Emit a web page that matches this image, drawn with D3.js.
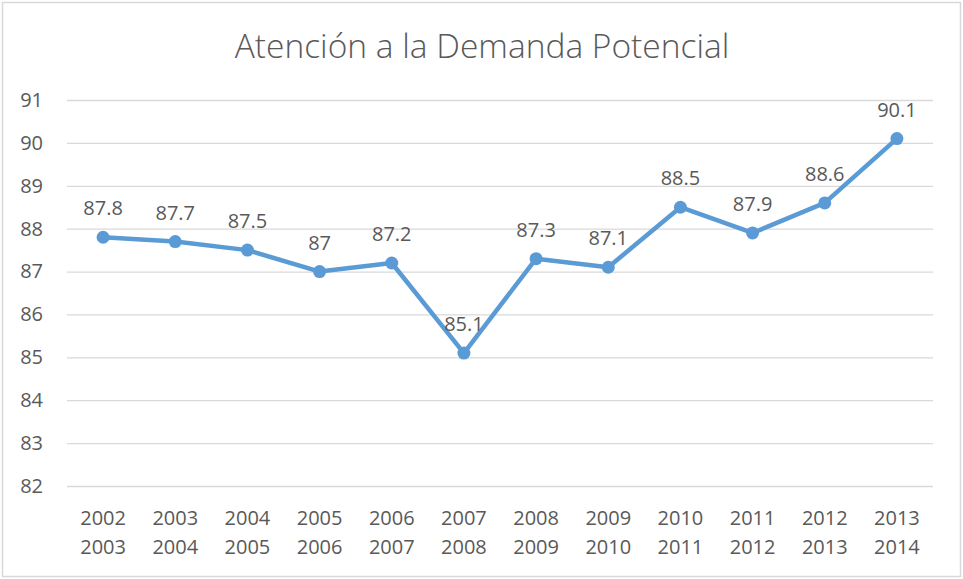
<!DOCTYPE html>
<html>
<head>
<meta charset="utf-8">
<script src="https://cdn.jsdelivr.net/npm/d3@7"></script>
<style>
  html, body { margin: 0; padding: 0; background: #ffffff; overflow: hidden; }
  #chart { width: 963px; height: 579px; }
  #chart svg { display: block; }
</style>
</head>
<body>
<div id="chart"></div>
<script>
const periods = [
  ["2002", "2003"], ["2003", "2004"], ["2004", "2005"], ["2005", "2006"],
  ["2006", "2007"], ["2007", "2008"], ["2008", "2009"], ["2009", "2010"],
  ["2010", "2011"], ["2011", "2012"], ["2012", "2013"], ["2013", "2014"]
];
const values = [87.8, 87.7, 87.5, 87, 87.2, 85.1, 87.3, 87.1, 88.5, 87.9, 88.6, 90.1];
const yTicks = [82, 83, 84, 85, 86, 87, 88, 89, 90, 91];
const chartTitle = "Atención a la Demanda Potencial";

const width = 963;
const height = 579;
const margin = { top: 100, right: 30, bottom: 93, left: 67 };
const innerWidth = width - margin.left - margin.right;
const innerHeight = height - margin.top - margin.bottom;
const textColor = "#595959";
const font = "'Open Sans', 'Noto Sans', sans-serif";

const svg = d3.select("#chart")
  .append("svg")
  .attr("width", width)
  .attr("height", height);

// outer frame
svg.append("rect")
  .attr("x", 2.5)
  .attr("y", 2.5)
  .attr("width", 958)
  .attr("height", 574)
  .attr("fill", "#ffffff")
  .attr("stroke", "#d9d9d9")
  .attr("stroke-width", 1.5);

svg.append("text")
  .attr("x", 482)
  .attr("y", 58)
  .attr("text-anchor", "middle")
  .attr("fill", textColor)
  .attr("font-family", font)
  .attr("font-weight", 300)
  .attr("font-size", 33.5)
  .text(chartTitle);

const chart = svg.append("g")
  .attr("transform", `translate(${margin.left},${margin.top})`);

const x = d3.scaleBand()
  .domain(d3.range(periods.length))
  .range([0, innerWidth]);

const y = d3.scaleLinear()
  .domain([82, 91])
  .range([innerHeight, 0]);

chart.append("g")
  .attr("class", "grid-lines")
  .call(d3.axisLeft(y).tickValues(yTicks).tickSize(-innerWidth).tickFormat(""))
  .call((g) => g.select(".domain").remove())
  .call((g) => g.selectAll("line")
    .attr("stroke", "#d9d9d9")
    .attr("stroke-width", 1.3));

chart.append("g")
  .call(d3.axisLeft(y).tickValues(yTicks).tickSize(0).tickPadding(24))
  .call((g) => g.select(".domain").remove())
  .call((g) => g.selectAll("text")
    .attr("fill", textColor)
    .attr("font-family", font)
    .attr("font-size", 20));

const cx = (d, i) => x(i) + x.bandwidth() / 2;

// two-line category labels, one text element per line
const xLabels = chart.append("g")
  .attr("class", "x-labels")
  .attr("transform", `translate(0,${innerHeight})`);

[0, 1].forEach((line) => {
  xLabels.selectAll(`text.line-${line}`)
    .data(periods)
    .enter()
    .append("text")
    .attr("class", `line-${line}`)
    .attr("x", cx)
    .attr("y", 39 + line * 29)
    .attr("text-anchor", "middle")
    .attr("fill", textColor)
    .attr("font-family", font)
    .attr("font-size", 20)
    .text((d) => d[line]);
});

chart.append("path")
  .datum(values)
  .attr("fill", "none")
  .attr("stroke", "#5b9bd5")
  .attr("stroke-width", 4.5)
  .attr("stroke-linejoin", "round")
  .attr("d", d3.line().x(cx).y((d) => y(d)));

chart.selectAll("circle.point")
  .data(values)
  .enter()
  .append("circle")
  .attr("class", "point")
  .attr("cx", cx)
  .attr("cy", (d) => y(d))
  .attr("r", 6.5)
  .attr("fill", "#5b9bd5");

chart.selectAll("text.value-label")
  .data(values)
  .enter()
  .append("text")
  .attr("class", "value-label")
  .attr("x", cx)
  .attr("y", (d) => y(d) - 22)
  .attr("text-anchor", "middle")
  .attr("fill", textColor)
  .attr("font-family", font)
  .attr("font-size", 20)
  .text((d) => d);
</script>
</body>
</html>
